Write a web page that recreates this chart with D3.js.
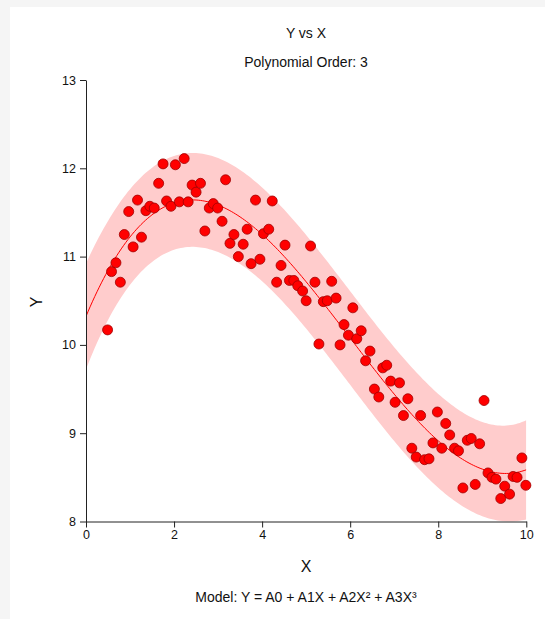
<!DOCTYPE html>
<html><head><meta charset="utf-8">
<script src="https://cdn.jsdelivr.net/npm/d3@7"></script>
<style>
html,body{margin:0;padding:0;background:#f5f5f5;}
svg{display:block;font-family:"Liberation Sans",Arial,sans-serif;}
</style></head>
<body>
<script>
const xValues = [0.49,0.58,0.68,0.78,0.87,0.97,1.07,1.17,1.26,1.36,1.45,1.55,1.65,1.75,1.83,1.93,2.03,2.12,2.23,2.32,2.41,2.50,2.60,2.70,2.80,2.89,2.99,3.09,3.17,3.27,3.36,3.46,3.57,3.66,3.75,3.85,3.95,4.03,4.15,4.23,4.33,4.43,4.52,4.62,4.72,4.81,4.92,5.00,5.10,5.20,5.29,5.39,5.48,5.58,5.68,5.77,5.86,5.96,6.06,6.15,6.25,6.35,6.45,6.55,6.65,6.74,6.83,6.92,7.02,7.12,7.21,7.31,7.40,7.50,7.60,7.69,7.79,7.88,7.98,8.08,8.17,8.26,8.37,8.46,8.56,8.66,8.75,8.84,8.94,9.04,9.13,9.22,9.31,9.42,9.51,9.62,9.70,9.79,9.90,9.99];
const yValues = [10.17,10.83,10.93,10.71,11.25,11.51,11.11,11.64,11.22,11.52,11.57,11.55,11.83,12.05,11.63,11.57,12.04,11.62,12.11,11.62,11.81,11.73,11.83,11.29,11.55,11.60,11.55,11.40,11.87,11.15,11.25,11.00,11.14,11.31,10.92,11.64,10.97,11.26,11.31,11.63,10.71,10.90,11.13,10.73,10.73,10.67,10.61,10.50,11.12,10.71,10.01,10.49,10.50,10.72,10.53,10.00,10.23,10.11,10.42,10.07,10.16,9.82,9.93,9.50,9.41,9.74,9.77,9.59,9.35,9.57,9.20,9.39,8.83,8.73,9.20,8.70,8.71,8.89,9.24,8.83,9.11,8.98,8.83,8.80,8.38,8.92,8.94,8.42,8.88,9.37,8.55,8.50,8.48,8.26,8.40,8.31,8.51,8.50,8.72,8.41];
const xTicks = [0,2,4,6,8,10];
const yTicks = [8,9,10,11,12,13];
const titleText = "Y vs X";
const subtitleText = "Polynomial Order: 3";
const xLabel = "X";
const yLabel = "Y";
const modelText = "Model: Y = A0 + A1X + A2X² + A3X³";

const W = 545, H = 619;
const svg = d3.select("body").append("svg").attr("width", W).attr("height", H);
svg.append("rect").attr("x",0).attr("y",0).attr("width",W).attr("height",H).attr("fill","#f5f5f5");
svg.append("rect").attr("x",10).attr("y",7).attr("width",W-10).attr("height",H-7).attr("fill","#ffffff");

const x = d3.scaleLinear().domain([0,10]).range([86,526.3]);
const y = d3.scaleLinear().domain([8,13]).range([521.5,80]);

// cubic least squares fit + prediction band
const n = xValues.length, p = 4;
const XtX = Array.from({length:p},()=>Array(p).fill(0));
const Xty = Array(p).fill(0);
for (let i=0;i<n;i++){
  const r=[1,xValues[i],xValues[i]**2,xValues[i]**3];
  for(let a=0;a<p;a++){Xty[a]+=r[a]*yValues[i];for(let b=0;b<p;b++)XtX[a][b]+=r[a]*r[b];}
}
function invert(M){
  const m=M.length, A=M.map((row,i)=>row.concat(Array.from({length:m},(_,j)=>i===j?1:0)));
  for(let c=0;c<m;c++){
    let piv=c;for(let r=c+1;r<m;r++)if(Math.abs(A[r][c])>Math.abs(A[piv][c]))piv=r;
    [A[c],A[piv]]=[A[piv],A[c]];
    const d=A[c][c];for(let k=0;k<2*m;k++)A[c][k]/=d;
    for(let r=0;r<m;r++)if(r!==c){const f=A[r][c];for(let k=0;k<2*m;k++)A[r][k]-=f*A[c][k];}
  }
  return A.map(row=>row.slice(m));
}
const inv = invert(XtX);
const beta = inv.map(row=>row.reduce((s,v,j)=>s+v*Xty[j],0));
const pred = xx => beta[0]+beta[1]*xx+beta[2]*xx*xx+beta[3]*xx*xx*xx;
let sse=0;for(let i=0;i<n;i++)sse+=(yValues[i]-pred(xValues[i]))**2;
const s = Math.sqrt(sse/(n-p));
const tval = 1.985;
const grid = d3.range(0,10.0001,0.05);
const band = grid.map(g=>{
  const r=[1,g,g*g,g*g*g];
  let h=0;for(let a=0;a<p;a++)for(let b=0;b<p;b++)h+=r[a]*inv[a][b]*r[b];
  const yh=pred(g), hw=tval*s*Math.sqrt(1+h);
  return {x:g,y:yh,lo:yh-hw,hi:yh+hw};
});

svg.append("clipPath").attr("id","clip").append("rect")
  .attr("x",x(0)).attr("y",y(13)).attr("width",x(10)-x(0)).attr("height",y(8)-y(13));
const plot = svg.append("g").attr("clip-path","url(#clip)");
plot.append("path").datum(band)
  .attr("d", d3.area().x(d=>x(d.x)).y0(d=>y(d.lo)).y1(d=>y(d.hi)))
  .attr("fill","#ffcccc");
plot.append("path").datum(band)
  .attr("d", d3.line().x(d=>x(d.x)).y(d=>y(d.y)))
  .attr("fill","none").attr("stroke","#ff0000").attr("stroke-width",1);

svg.append("g").selectAll("circle").data(xValues.map((v,i)=>[v,yValues[i]])).join("circle")
  .attr("cx",d=>x(d[0])).attr("cy",d=>y(d[1])).attr("r",5)
  .attr("fill","#ff0000").attr("stroke","#a00000").attr("stroke-width",0.8);

const xAxis = svg.append("g").attr("transform",`translate(0,${y(8)})`)
  .call(d3.axisBottom(x).tickValues(xTicks).tickFormat(d3.format("d")).tickSize(6).tickPadding(3).tickSizeOuter(0));
const yAxis = svg.append("g").attr("transform",`translate(${x(0)},0)`)
  .call(d3.axisLeft(y).tickValues(yTicks).tickFormat(d3.format("d")).tickSize(6).tickPadding(4).tickSizeOuter(0));
[xAxis,yAxis].forEach(g=>{
  g.selectAll("text").attr("font-size",12.5).attr("fill","#111").attr("font-family","'Liberation Sans',Arial,sans-serif");
  g.selectAll("line,path").attr("stroke","#222");
});

svg.append("text").attr("x",306).attr("y",38).attr("text-anchor","middle").attr("font-size",14).attr("fill","#111").text(titleText);
svg.append("text").attr("x",306).attr("y",67).attr("text-anchor","middle").attr("font-size",14).attr("fill","#111").text(subtitleText);
svg.append("text").attr("x",306).attr("y",572).attr("text-anchor","middle").attr("font-size",16).attr("fill","#111").text(xLabel);
svg.append("text").attr("transform","translate(42,302) rotate(-90)").attr("text-anchor","middle").attr("font-size",16).attr("fill","#111").text(yLabel);
svg.append("text").attr("x",306).attr("y",602).attr("text-anchor","middle").attr("font-size",14).attr("fill","#111").text(modelText);
</script>
</body></html>
